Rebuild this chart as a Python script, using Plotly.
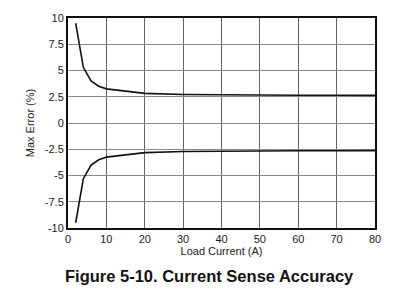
import plotly.graph_objects as go

current = [2, 4, 6, 8, 10, 15, 20, 30, 40, 50, 60, 70, 80]
err_pos = [9.5, 5.3, 4.0, 3.5, 3.25, 3.0, 2.82, 2.72, 2.68, 2.66, 2.65, 2.64, 2.63]
err_neg = [-9.5, -5.3, -4.0, -3.5, -3.25, -3.0, -2.82, -2.72, -2.68, -2.66, -2.65, -2.64, -2.63]
x_ticks = [0, 10, 20, 30, 40, 50, 60, 70, 80]
y_ticks = [10, 7.5, 5, 2.5, 0, -2.5, -5, -7.5, -10]
y_tick_text = ["10", "7.5", "5", "2.5", "0", "-2.5", "-5", "-7.5", "-10"]

fig = go.Figure()
for ys in (err_pos, err_neg):
    fig.add_trace(go.Scatter(x=current, y=ys, mode="lines",
                             line=dict(color="#111111", width=1.6), showlegend=False))

font = dict(family="Liberation Sans, Arial, sans-serif", size=11, color="#222222")
fig.update_layout(
    width=399, height=290,
    margin=dict(l=68, r=24, t=12, b=62),
    plot_bgcolor="white", paper_bgcolor="white",
    font=font,
    xaxis=dict(range=[0, 80], tickvals=x_ticks, ticks="", showgrid=True,
               gridcolor="#666666", gridwidth=1, zeroline=False,
               showline=True, linecolor="#111111", linewidth=2, mirror=True,
               title=dict(text="Load Current (A)", font=font, standoff=3)),
    yaxis=dict(range=[-10, 10], tickvals=y_ticks, ticktext=y_tick_text, ticks="",
               showgrid=True, gridcolor="#888888", gridwidth=1, zeroline=False,
               showline=True, linecolor="#111111", linewidth=2, mirror=True,
               title=dict(text="Max Error (%)", font=font, standoff=8)),
    annotations=[dict(text="<b>Figure 5-10. Current Sense Accuracy</b>",
                      x=0.46, y=-0.227, xref="paper", yref="paper", yanchor="middle",
                      showarrow=False, font=dict(family="Liberation Sans, Arial, sans-serif",
                                                  size=16.5, color="#111111"))],
)
fig.write_html("out.html")
